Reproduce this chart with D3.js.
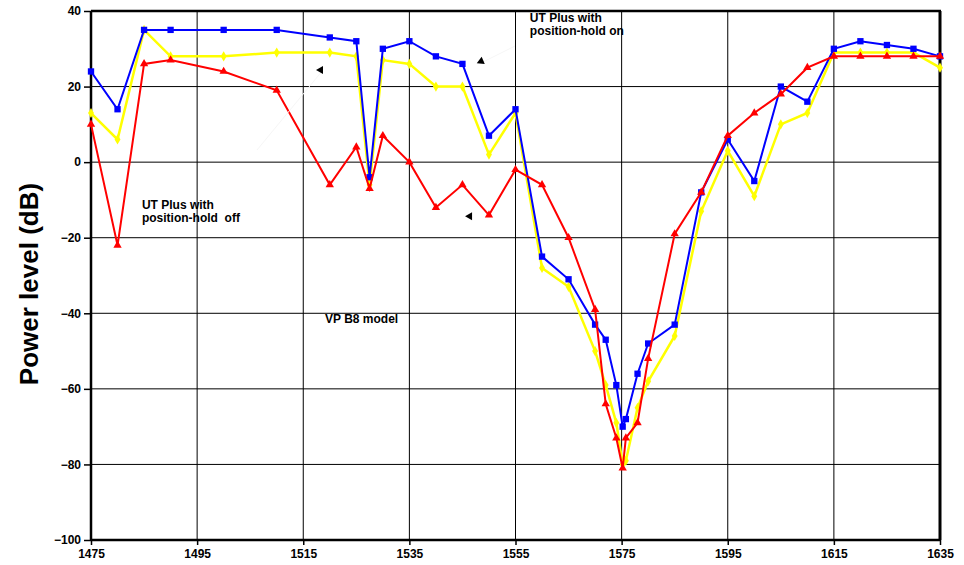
<!DOCTYPE html>
<html>
<head>
<meta charset="utf-8">
<script src="https://cdn.jsdelivr.net/npm/d3@7"></script>
<style>
  html, body { margin: 0; padding: 0; background: #fff; }
  svg { display: block; font-family: "Liberation Sans", Arial, sans-serif; }
</style>
</head>
<body>
<svg id="chart" width="964" height="565"></svg>
<script>
// Frequency (MHz) of each measurement
const freqs = [1475,1480,1485,1490,1500,1510,1520,1525,1527.5,1530,1535,1540,1545,1550,1555,1560,1565,1570,1572,1574,1575.2,1575.8,1578,1580,1585,1590,1595,1600,1605,1610,1615,1620,1625,1630,1635];

// Power level (dB) per series
const utPlusHoldOn  = [24,14,35,35,35,35,33,32,-4,30,32,28,26,7,14,-25,-31,-43,-47,-59,-70,-68,-56,-48,-43,-8,6,-5,20,16,30,32,31,30,28];
const utPlusHoldOff = [13,6,35,28,28,29,29,28,-6,27,26,20,20,2,13,-28,-33,-50,-59,-69,-80,-79,-65,-58,-46,-13,3,-9,10,13,29,29,29,29,25];
const vpB8Model     = [10,-22,26,27,24,19,-6,4,-7,7,0,-12,-6,-14,-2,-6,-20,-39,-64,-73,-81,-73,-69,-52,-19,-8,7,13,18,25,28,28,28,28,28];

// Axis ticks
const xTicks = [1475,1495,1515,1535,1555,1575,1595,1615,1635];
const yTicks = [-100,-80,-60,-40,-20,0,20,40];

// Callout labels (data coordinates of first baseline)
const labelTexts = [["UT Plus with", "position-hold on"], ["UT Plus with", "position-hold  off"], ["VP B8 model"]];
const labelX = [1557.7, 1484.6, 1519.1];
const labelY = [37.1, -12.4, -42.5];

// Arrowheads: tip position (data) and pointing angle (degrees, screen)
const arrowX = [1517.4, 1547.7, 1545.5];
const arrowY = [24.4, 26.2, -14.3];
const arrowAngle = [180, 157, 180];

const svg = d3.select("#chart");
const mLeft = 91, mRight = 940, mTop = 11, mBottom = 540;

const x = d3.scaleLinear().domain([1475, 1635]).range([mLeft, mRight]);
const y = d3.scaleLinear().domain([-100, 40]).range([mBottom, mTop]);

// Gridlines
const grid = svg.append("g");
grid.selectAll("line.v").data(xTicks).join("line")
  .attr("class", "v")
  .attr("x1", d => x(d)).attr("x2", d => x(d))
  .attr("y1", mTop).attr("y2", mBottom)
  .attr("stroke", "#000").attr("stroke-width", 1);
grid.selectAll("line.h").data(yTicks).join("line")
  .attr("class", "h")
  .attr("x1", mLeft).attr("x2", mRight)
  .attr("y1", d => y(d)).attr("y2", d => y(d))
  .attr("stroke", "#000").attr("stroke-width", 1);

// Frame: top and right edges
svg.append("line").attr("x1", mLeft).attr("x2", mRight + 1).attr("y1", mTop).attr("y2", mTop)
  .attr("stroke", "#000").attr("stroke-width", 2.5);
svg.append("line").attr("x1", mRight).attr("x2", mRight).attr("y1", mTop).attr("y2", mBottom)
  .attr("stroke", "#000").attr("stroke-width", 3);

// Axes
const yAxis = svg.append("g").attr("transform", `translate(${mLeft},0)`)
  .call(d3.axisLeft(y).tickValues(yTicks).tickSize(7).tickPadding(3).tickFormat(d3.format("d")));
const xAxis = svg.append("g").attr("transform", `translate(0,${mBottom})`)
  .call(d3.axisBottom(x).tickValues(xTicks).tickSize(5).tickPadding(4).tickFormat(d3.format("d")));
[yAxis, xAxis].forEach(g => {
  g.select(".domain").attr("stroke", "#000").attr("stroke-width", 2.5);
  g.selectAll(".tick line").attr("stroke", "#000").attr("stroke-width", 1.5);
  g.selectAll(".tick text").attr("fill", "#000").attr("font-size", 12).attr("font-weight", "bold")
    .attr("font-family", "'Liberation Sans', Arial, sans-serif");
});
yAxis.select(".domain").attr("d", `M0,${mTop}V${mBottom}`);
xAxis.select(".domain").attr("d", `M${mLeft},0H${mRight}`);

// Y axis title
svg.append("text")
  .attr("transform", `translate(${38},${284}) rotate(-90)`)
  .attr("text-anchor", "middle")
  .attr("font-size", 26).attr("font-weight", "bold").attr("fill", "#000")
  .text("Power level (dB)");

// Series
const line = d3.line().x((d, i) => x(freqs[i])).y(d => y(d));
const series = [
  { values: utPlusHoldOff, color: "#ffff00", width: 2.5, symbol: d3.symbolDiamond, size: 30 },
  { values: utPlusHoldOn,  color: "#0000ff", width: 2,   symbol: d3.symbolSquare,  size: 40 },
  { values: vpB8Model,     color: "#ff0000", width: 2,   symbol: d3.symbolTriangle, size: 30 }
];
series.forEach(s => {
  const g = svg.append("g");
  g.append("path").datum(s.values)
    .attr("d", line).attr("fill", "none")
    .attr("stroke", s.color).attr("stroke-width", s.width).attr("stroke-linejoin", "miter");
  g.selectAll("path.m").data(s.values).join("path")
    .attr("class", "m")
    .attr("transform", (d, i) => `translate(${x(freqs[i])},${y(d)})`)
    .attr("d", d3.symbol().type(s.symbol).size(s.size))
    .attr("fill", s.color);
});

// Faint leader lines
const leaders = [[[323, 70], [257, 150]], [[483, 62], [515, 46]]];
leaders.forEach(p => {
  svg.append("line").attr("x1", p[0][0]).attr("y1", p[0][1]).attr("x2", p[1][0]).attr("y2", p[1][1])
    .attr("stroke", "#f6f6f6").attr("stroke-width", 1);
});

// Arrowheads
arrowX.forEach((ax, i) => {
  svg.append("path")
    .attr("transform", `translate(${x(ax)},${y(arrowY[i])}) rotate(${arrowAngle[i]})`)
    .attr("d", "M0,0L-7,-4L-7,4Z")
    .attr("fill", "#000");
});

// Callout labels
labelTexts.forEach((lines, i) => {
  const t = svg.append("text")
    .attr("x", x(labelX[i])).attr("y", y(labelY[i]))
    .attr("font-size", 12).attr("font-weight", "bold").attr("fill", "#000")
    .style("white-space", "pre");
  lines.forEach((s, j) => {
    t.append("tspan").attr("x", x(labelX[i])).attr("dy", j === 0 ? 0 : 13.5).text(s);
  });
});
</script>
</body>
</html>
